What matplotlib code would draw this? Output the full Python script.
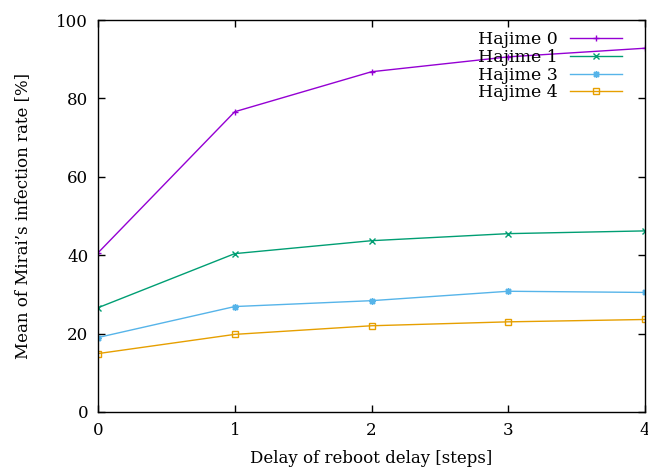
import matplotlib
matplotlib.use('Agg')
import matplotlib.pyplot as plt

plt.rcParams['font.family'] = ['DejaVu Serif']

steps = [0, 1, 2, 3, 4]
series_names = ['Hajime 0', 'Hajime 1', 'Hajime 3', 'Hajime 4']
hajime0 = [40.6, 76.6, 86.8, 90.6, 92.8]
hajime1 = [26.6, 40.4, 43.7, 45.5, 46.2]
hajime3 = [19.0, 26.9, 28.4, 30.8, 30.5]
hajime4 = [14.9, 19.8, 22.0, 23.0, 23.6]

colors = ['#9400d3', '#009e73', '#56b4e9', '#e69f00']
markers = ['+', 'x', (8, 2, 0), 's']

fig = plt.figure(figsize=(6.48, 4.70), dpi=100)
ax = fig.add_axes([98 / 648, 58 / 470, 547 / 648, 392 / 470])

for vals, name, c, m in zip([hajime0, hajime1, hajime3, hajime4], series_names, colors, markers):
    mfc = 'none' if m == 's' else c
    ax.plot(steps, vals, color=c, lw=1.0, marker=m, markersize=5,
            markerfacecolor=mfc, markeredgecolor=c, markeredgewidth=1.0, label=name)

ax.set_xlim(0, 4)
ax.set_ylim(0, 100)
ax.set_xticks(steps)
ax.set_yticks([0, 20, 40, 60, 80, 100])
ax.tick_params(direction='in', top=True, right=True, length=5, width=1.0, labelsize=12, pad=7)
for spine in ax.spines.values():
    spine.set_linewidth(1.0)

ax.set_xlabel('Delay of reboot delay [steps]', fontsize=12, labelpad=8)
ax.set_ylabel("Mean of Mirai’s infection rate [%]", fontsize=12, labelpad=18)

ax.legend(loc='upper right', frameon=False, markerfirst=False, fontsize=12.5,
          handlelength=3.0, labelspacing=0.05, borderaxespad=0.0,
          handletextpad=0.7, bbox_to_anchor=(0.97, 0.99))

plt.savefig('out.png', dpi=100)
plt.close()
